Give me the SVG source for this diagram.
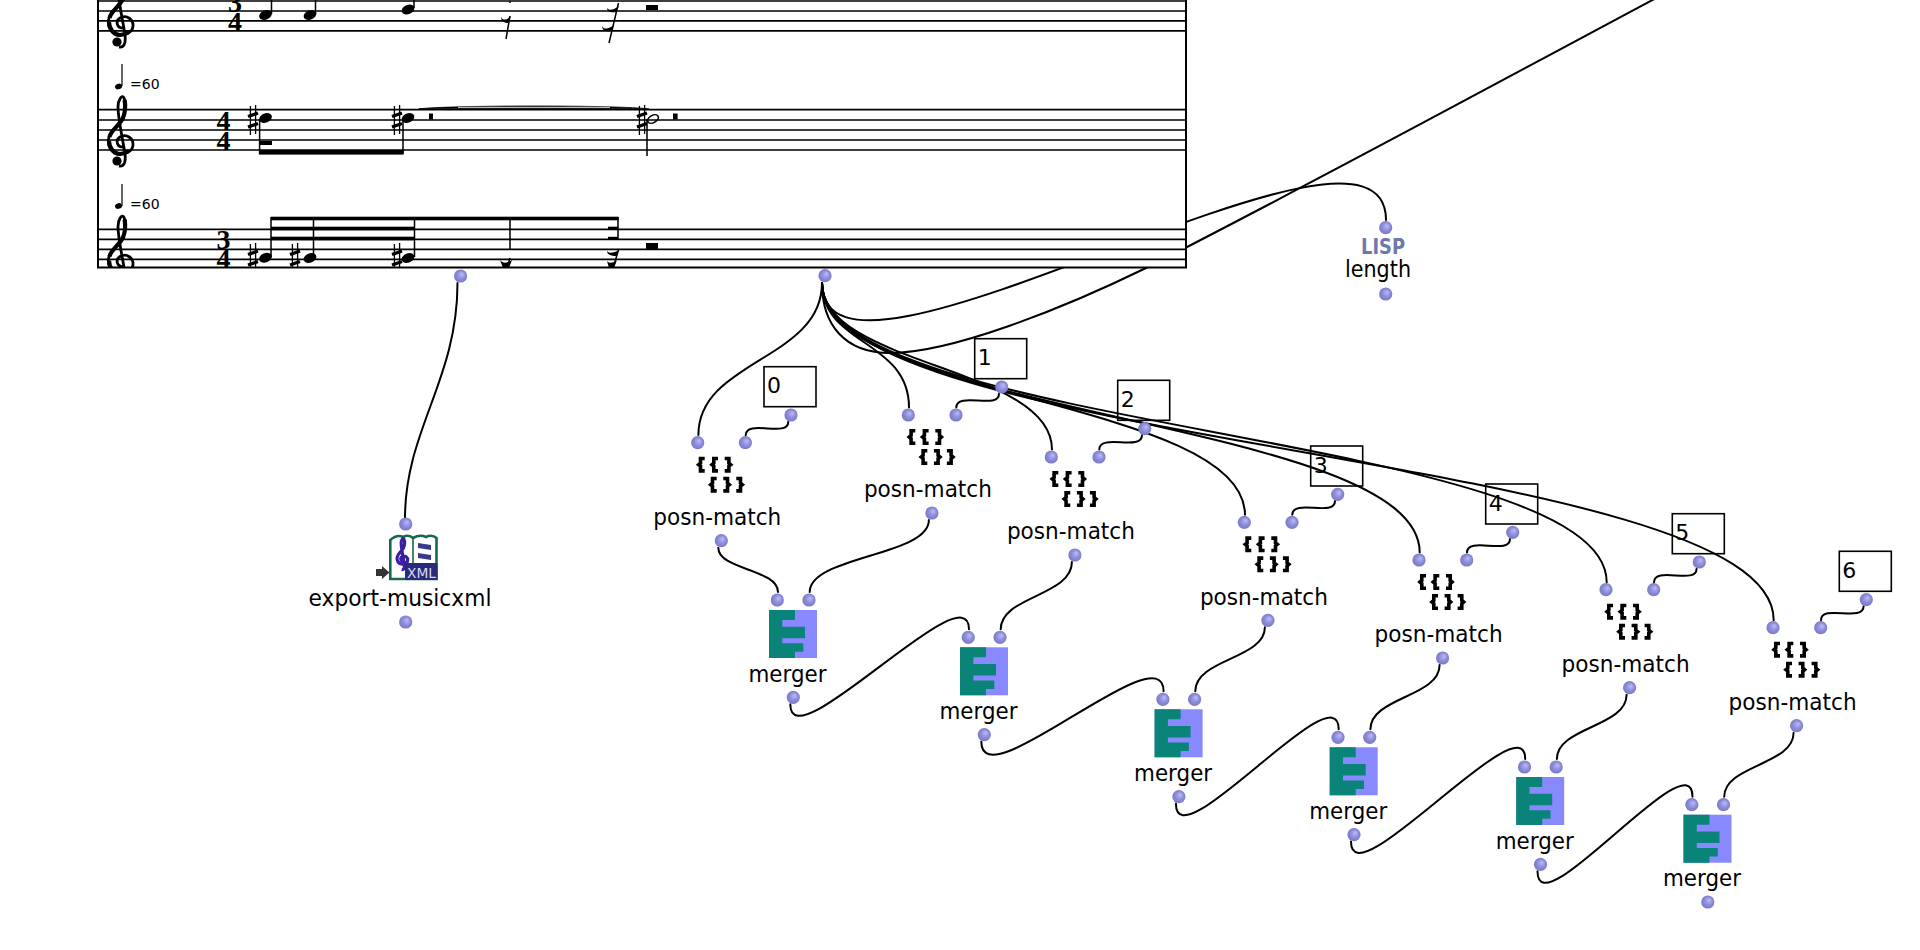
<svg xmlns="http://www.w3.org/2000/svg" xmlns:xlink="http://www.w3.org/1999/xlink" width="1920" height="950" viewBox="0 0 1920 950">
<style>
text{font-family:"DejaVu Sans","Liberation Sans",sans-serif;fill:#000}
.lbl{font-size:22.5px;text-anchor:middle}
.num{font-size:22px}
.tempo{font-size:14px}
.ts{font-family:"Liberation Serif",serif;font-weight:bold;font-size:28px;text-anchor:middle}
.con{fill:none;stroke:#000;stroke-width:2;stroke-linecap:round}
.staff{stroke:#000;stroke-width:1.7;fill:none}
.blk{stroke:#000;fill:none}
.br{fill:none;stroke:#000;stroke-width:3.6}
.box{fill:none;stroke:#000;stroke-width:1.6}
.teal{fill:#0a8478}
.vio{fill:#8888ff}
</style>
<defs>
<radialGradient id="ballGrad" cx="0.5" cy="0.5" r="0.55" fx="0.62" fy="0.35">
<stop offset="0" stop-color="#bcbcf4"/><stop offset="0.55" stop-color="#8c8cdc"/><stop offset="1" stop-color="#7676bc"/>
</radialGradient>
<circle id="ball" r="6.6" fill="url(#ballGrad)"/>
<clipPath id="scoreClip"><rect x="97" y="-12" width="1090" height="280"/></clipPath>
<g id="clef">
<path d="M1.5,7C-4,7-6,0-1,-3C6,-7 12.5,-1 12,5C11.5,12 4,14-1,14C-9,14-13.5,6-12.5,-1C-11,-10-2,-14 2,-22C5,-29 5,-38 3,-42C1,-46-3,-40-3,-33C-3,-22 1,-5 4,14C5,22 3,27-2,26" fill="none" stroke="#000" stroke-width="2.8"/>
<path d="M-11.5,-3C-10,-10-2,-14 2,-22C4.5,-28 4.5,-36 3.5,-40M8,11C4,13.5 1,14-1,14C-7,14-12,8-12,1" fill="none" stroke="#000" stroke-width="4.2"/>
<circle cx="-4" cy="21" r="4.6" fill="#000"/>
</g>
<ellipse id="head" rx="6.6" ry="4.6" transform="rotate(-22)" fill="#000"/>
<g id="sharp" stroke="#000" fill="none">
<path d="M-2.6,-14V15M2.6,-15V14" stroke-width="1.3"/>
<path d="M-5,-3.5L5,-7M-5,7L5,3.5" stroke-width="3.4"/>
</g>
<path id="lb" d="M7,1.8H2.8V6.5L1,8L2.8,9.5V14.2H7" class="br"/>
<path id="rb" d="M0,1.8H4.2V6.5L6,8L4.2,9.5V14.2H0" class="br"/>
<g id="bracket">
<use xlink:href="#lb" href="#lb" x="0" y="14"/><use xlink:href="#lb" href="#lb" x="13.3" y="14"/><use xlink:href="#rb" href="#rb" x="27" y="14"/>
<use xlink:href="#lb" href="#lb" x="12" y="34"/><use xlink:href="#rb" href="#rb" x="25.6" y="34"/><use xlink:href="#rb" href="#rb" x="38.6" y="34"/>
</g>
<g id="mergeIcon">
<rect width="48" height="48" class="vio"/>
<polygon class="teal" points="0,0 26,0 26,10 13.3,10 13.3,16.7 36,16.7 36,28.3 13.3,28.3 13.3,33.3 34.3,33.3 34.3,41.7 26,41.7 26,48 0,48"/>
</g>
</defs>
<rect width="1920" height="950" fill="#fff"/>

<g id="connectors">
<path class="con" d="M457.5,283C457.5,380 405,430 405,518"/>
<path class="con" d="M822,283C822,360 698.4,360 698.4,435"/>
<path class="con" d="M822,283C822,345 909,340 909,407.5"/>
<path class="con" d="M822,283C822,366 1052,366 1052,449.5"/>
<path class="con" d="M822,283C822,399 1245,399 1245,514.8"/>
<path class="con" d="M822,283C822,418 1419.7,418 1419.7,552.5"/>
<path class="con" d="M822,283C822,432 1606.7,432 1606.7,582.2"/>
<path class="con" d="M822,283C822,451 1773.7,451 1773.7,620.2"/>
<path class="con" d="M822,283C822,433 1386,72 1386,220"/>
<path class="con" d="M822,283C822,325 845,353 890,353C950,353 1060,310 1146,268C1300,190 1480,92 1660,-4"/>
<path class="con" d="M788.3,421.7C788.3,438 745.7,418.7 745.7,435.2"/>
<path class="con" d="M999,393.7C999,410 956.3,391 956.3,407.5"/>
<path class="con" d="M1142,435.3C1142,451.6 1099.3,433 1099.3,449.5"/>
<path class="con" d="M1335,501C1335,517.3 1292.3,498.3 1292.3,514.8"/>
<path class="con" d="M1510,539C1510,555.3 1467,536 1467,552.5"/>
<path class="con" d="M1696.6,568.7C1696.6,585 1654,565.7 1654,582.2"/>
<path class="con" d="M1863.6,606.3C1863.6,622.6 1821,603.7 1821,620.2"/>
<path class="con" d="M718.3,547.7C718.3,570 778,569 778,592"/>
<path class="con" d="M928.9,520C928.9,556 809.7,556 809.7,592"/>
<path class="con" d="M1071.9,562C1071.9,596 1000.7,596 1000.7,629.3"/>
<path class="con" d="M1264.9,627.3C1264.9,659 1195.3,659 1195.3,691.3"/>
<path class="con" d="M1439.6,665C1439.6,697 1370.4,697 1370.4,729.3"/>
<path class="con" d="M1626.6,694.7C1626.6,727 1556.9,727 1556.9,759"/>
<path class="con" d="M1793.6,732.7C1793.6,765 1724.2,765 1724.2,796.7"/>
<path class="con" d="M790.3,704.3C790.3,764 969,569 969,629.3"/>
<path class="con" d="M981.3,741.6C981.3,802 1163.6,631 1163.6,691.3"/>
<path class="con" d="M1175.9,803.6C1175.9,864 1338.7,669 1338.7,729.3"/>
<path class="con" d="M1351,841.6C1351,902 1525.2,699 1525.2,759"/>
<path class="con" d="M1537.5,871.3C1537.5,931 1692.5,737 1692.5,796.7"/>
</g>

<g id="score">
<rect x="98" y="-12" width="1088" height="279.5" fill="#fff" stroke="#000" stroke-width="2"/>
<g clip-path="url(#scoreClip)">
<path class="staff" d="M98,1H1186M98,11H1186M98,20.8H1186M98,30.8H1186"/>
<path class="staff" d="M98,109.7H1186M98,120H1186M98,130H1186M98,140H1186M98,150H1186"/>
<path class="staff" d="M98,229.4H1186M98,239.4H1186M98,249.4H1186M98,259.4H1186"/>
<use xlink:href="#clef" href="#clef" x="121" y="21"/>
<use xlink:href="#clef" href="#clef" x="121" y="140"/>
<use xlink:href="#clef" href="#clef" x="121" y="259.5"/>
<text class="ts"><tspan x="235" y="12">3</tspan><tspan x="235" y="31">4</tspan></text>
<text class="ts"><tspan x="223.5" y="130">4</tspan><tspan x="223.5" y="150">4</tspan></text>
<text class="ts"><tspan x="223.5" y="249">3</tspan><tspan x="223.5" y="268">4</tspan></text>
<use xlink:href="#head" href="#head" x="265.5" y="15"/><use xlink:href="#head" href="#head" x="310" y="15"/><use xlink:href="#head" href="#head" x="408" y="9.5"/>
<path class="blk" stroke-width="1.5" d="M271.5,14V-10M315.5,14V-10M414,8V-10"/>
<path class="blk" stroke-width="1.5" d="M510,16L506,39M618.5,3L609,43M510,1V3"/>
<path d="M501,17C503,21 507,20 511,16L508,23C505,23 501,21 501,17ZM607,8C609,11 614,10 619,6L616,12C612,13 607,12 607,8ZM602,26C604,30 609,29 614,25L612,31C608,32 602,31 602,26Z" fill="#000"/>
<rect x="646" y="5" width="12" height="5" fill="#000"/>
<use xlink:href="#sharp" href="#sharp" x="253" y="120"/><use xlink:href="#sharp" href="#sharp" x="397" y="120"/><use xlink:href="#sharp" href="#sharp" x="642" y="120"/>
<use xlink:href="#head" href="#head" x="265.5" y="118"/><use xlink:href="#head" href="#head" x="408" y="118"/>
<ellipse cx="653" cy="119" rx="5.8" ry="3.6" transform="rotate(-30 653 119)" fill="none" stroke="#000" stroke-width="1.7"/>
<path class="blk" stroke-width="1.5" d="M259.6,119V154M403,119V154M647,119V156"/>
<rect x="259" y="150" width="144.5" height="4.6" fill="#000"/><rect x="259" y="141" width="13" height="4" fill="#000"/>
<path d="M418.6,109C445,105 622,105 649,109C622,108.8 445,108.8 418.6,109Z" fill="#000" stroke="#000" stroke-width="0.8"/>
<path d="M458,107.4H610" stroke="#bbb" stroke-width="1.1"/>
<rect x="429" y="113.5" width="4" height="6" fill="#000"/><rect x="673" y="113.5" width="4.6" height="6" fill="#000"/>
<use xlink:href="#sharp" href="#sharp" x="253" y="258"/><use xlink:href="#sharp" href="#sharp" x="295" y="258"/><use xlink:href="#sharp" href="#sharp" x="397" y="258"/>
<use xlink:href="#head" href="#head" x="265.5" y="257.7"/><use xlink:href="#head" href="#head" x="310" y="258"/><use xlink:href="#head" href="#head" x="408" y="258"/>
<path class="blk" stroke-width="1.5" d="M271,217V257M313.5,217V257M414.5,217V257M510,217V249M618,217V240"/>
<rect x="271" y="216.7" width="347.5" height="3.6" fill="#000"/>
<rect x="271" y="226.7" width="144" height="3.6" fill="#000"/><rect x="271" y="236.7" width="144" height="3.6" fill="#000"/>
<rect x="608" y="226.7" width="10" height="3" fill="#000"/><rect x="608" y="236.8" width="10" height="3" fill="#000"/>
<path class="blk" stroke-width="1.5" d="M510,258L507,268M618.5,250L613,268"/>
<path d="M500,260C503,264 508,263 512,260L509,268H503ZM607,251C609,254 614,253 619,250L616,256C612,256 607,255 607,251ZM607,261C609,264 614,263 617,260L614,268H609Z" fill="#000"/>
<rect x="646" y="243" width="12" height="6" fill="#000"/>
<path class="blk" stroke-width="1.2" d="M122,64V86M122,184V206"/>
<ellipse cx="118.5" cy="86.5" rx="3.6" ry="2.8" fill="#000" transform="rotate(-22 118.5 86.5)"/>
<ellipse cx="118.5" cy="206" rx="3.6" ry="2.8" fill="#000" transform="rotate(-22 118.5 206)"/>
<text class="tempo" x="130" y="89">=60</text>
<text class="tempo" x="130" y="208.5">=60</text>
</g>
<use xlink:href="#ball" href="#ball" x="460.6" y="276"/>
<use xlink:href="#ball" href="#ball" x="825" y="275.7"/>
</g>

<g id="export-musicxml">
<use xlink:href="#ball" href="#ball" x="405.7" y="524"/>
<polygon points="376,569 382,569 382,566 389.5,572.5 382,579 382,576 376,576" fill="#333"/>
<path d="M390.3,579V540Q397,534 403,537Q409,534 413,538Q420,534 426,537Q432,534 436.5,538V579Z" fill="#fff" stroke="#17694e" stroke-width="2.6"/>
<path d="M413,538V565" stroke="#17694e" stroke-width="1.6"/>
<g transform="translate(402.5 558) scale(0.45)" stroke="#3a1fa0"><path d="M1.5,7C-4,7-6,0-1,-3C6,-7 12,-1 11.5,5C11,12 4,13.5-1,13.5C-9,13.5-13,6-12,-1C-11,-10-2,-14 2,-22C5,-29 5,-38 3,-42C1,-46-3,-40-3,-33C-3,-22 1,-5 4,14C5,22 3,27-2,26" fill="none" stroke-width="7"/></g>
<path d="M418,543L431,545V550L418,548ZM418,553L431,555V560L418,558Z" fill="#3a3a8a"/>
<rect x="405" y="563" width="32.5" height="17" fill="#2a2a78"/>
<text x="407" y="577.5" font-size="14" textLength="29" lengthAdjust="spacingAndGlyphs" style="fill:#d8d8f0">XML</text>
<text class="lbl" x="400" y="606" textLength="183" lengthAdjust="spacingAndGlyphs">export-musicxml</text>
<use xlink:href="#ball" href="#ball" x="405.7" y="622"/>
</g>

<g id="length">
<use xlink:href="#ball" href="#ball" x="1385.7" y="227.7"/>
<text x="1361" y="254" font-size="20.5" font-weight="bold" textLength="44" lengthAdjust="spacingAndGlyphs" style="fill:#6f78ad">LISP</text>
<text class="lbl" x="1378" y="277.3" textLength="66" lengthAdjust="spacingAndGlyphs">length</text>
<use xlink:href="#ball" href="#ball" x="1385.7" y="294"/>
</g>

<g id="value-0" transform="translate(764 366.7)"><rect class="box" width="52" height="40"/><text class="num" x="3" y="26.7">0</text><use xlink:href="#ball" href="#ball" x="27" y="48.3"/></g>
<g id="value-1" transform="translate(974.7 338.7)"><rect class="box" width="52" height="40"/><text class="num" x="3" y="26.7">1</text><use xlink:href="#ball" href="#ball" x="27" y="48.3"/></g>
<g id="value-2" transform="translate(1117.7 380.3)"><rect class="box" width="52" height="40"/><text class="num" x="3" y="26.7">2</text><use xlink:href="#ball" href="#ball" x="27" y="48.3"/></g>
<g id="value-3" transform="translate(1310.7 446)"><rect class="box" width="52" height="40"/><text class="num" x="3" y="26.7">3</text><use xlink:href="#ball" href="#ball" x="27" y="48.3"/></g>
<g id="value-4" transform="translate(1485.7 484)"><rect class="box" width="52" height="40"/><text class="num" x="3" y="26.7">4</text><use xlink:href="#ball" href="#ball" x="27" y="48.3"/></g>
<g id="value-5" transform="translate(1672.3 513.7)"><rect class="box" width="52" height="40"/><text class="num" x="3" y="26.7">5</text><use xlink:href="#ball" href="#ball" x="27" y="48.3"/></g>
<g id="value-6" transform="translate(1839.3 551.3)"><rect class="box" width="52" height="40"/><text class="num" x="3" y="26.7">6</text><use xlink:href="#ball" href="#ball" x="27" y="48.3"/></g>

<g id="posn-match-0" transform="translate(697.7 442.7)"><use xlink:href="#ball" href="#ball"/><use xlink:href="#ball" href="#ball" x="47.7"/><use xlink:href="#bracket" href="#bracket"/><text class="lbl" x="19.6" y="82.3" textLength="128" lengthAdjust="spacingAndGlyphs">posn-match</text><use xlink:href="#ball" href="#ball" x="23.6" y="98"/></g>
<g id="posn-match-1" transform="translate(908.3 415)"><use xlink:href="#ball" href="#ball"/><use xlink:href="#ball" href="#ball" x="47.7"/><use xlink:href="#bracket" href="#bracket"/><text class="lbl" x="19.6" y="82.3" textLength="128" lengthAdjust="spacingAndGlyphs">posn-match</text><use xlink:href="#ball" href="#ball" x="23.6" y="98"/></g>
<g id="posn-match-2" transform="translate(1051.3 457)"><use xlink:href="#ball" href="#ball"/><use xlink:href="#ball" href="#ball" x="47.7"/><use xlink:href="#bracket" href="#bracket"/><text class="lbl" x="19.6" y="82.3" textLength="128" lengthAdjust="spacingAndGlyphs">posn-match</text><use xlink:href="#ball" href="#ball" x="23.6" y="98"/></g>
<g id="posn-match-3" transform="translate(1244.3 522.3)"><use xlink:href="#ball" href="#ball"/><use xlink:href="#ball" href="#ball" x="47.7"/><use xlink:href="#bracket" href="#bracket"/><text class="lbl" x="19.6" y="82.3" textLength="128" lengthAdjust="spacingAndGlyphs">posn-match</text><use xlink:href="#ball" href="#ball" x="23.6" y="98"/></g>
<g id="posn-match-4" transform="translate(1419 560)"><use xlink:href="#ball" href="#ball"/><use xlink:href="#ball" href="#ball" x="47.7"/><use xlink:href="#bracket" href="#bracket"/><text class="lbl" x="19.6" y="82.3" textLength="128" lengthAdjust="spacingAndGlyphs">posn-match</text><use xlink:href="#ball" href="#ball" x="23.6" y="98"/></g>
<g id="posn-match-5" transform="translate(1606 589.7)"><use xlink:href="#ball" href="#ball"/><use xlink:href="#ball" href="#ball" x="47.7"/><use xlink:href="#bracket" href="#bracket"/><text class="lbl" x="19.6" y="82.3" textLength="128" lengthAdjust="spacingAndGlyphs">posn-match</text><use xlink:href="#ball" href="#ball" x="23.6" y="98"/></g>
<g id="posn-match-6" transform="translate(1773 627.7)"><use xlink:href="#ball" href="#ball"/><use xlink:href="#ball" href="#ball" x="47.7"/><use xlink:href="#bracket" href="#bracket"/><text class="lbl" x="19.6" y="82.3" textLength="128" lengthAdjust="spacingAndGlyphs">posn-match</text><use xlink:href="#ball" href="#ball" x="23.6" y="98"/></g>

<g id="merger-0" transform="translate(777.3 600)"><use xlink:href="#ball" href="#ball"/><use xlink:href="#ball" href="#ball" x="31.7"/><use xlink:href="#mergeIcon" href="#mergeIcon" x="-8.3" y="10"/><text class="lbl" x="10.2" y="81.7" textLength="78" lengthAdjust="spacingAndGlyphs">merger</text><use xlink:href="#ball" href="#ball" x="16" y="97.3"/></g>
<g id="merger-1" transform="translate(968.3 637.3)"><use xlink:href="#ball" href="#ball"/><use xlink:href="#ball" href="#ball" x="31.7"/><use xlink:href="#mergeIcon" href="#mergeIcon" x="-8.3" y="10"/><text class="lbl" x="10.2" y="81.7" textLength="78" lengthAdjust="spacingAndGlyphs">merger</text><use xlink:href="#ball" href="#ball" x="16" y="97.3"/></g>
<g id="merger-2" transform="translate(1162.9 699.3)"><use xlink:href="#ball" href="#ball"/><use xlink:href="#ball" href="#ball" x="31.7"/><use xlink:href="#mergeIcon" href="#mergeIcon" x="-8.3" y="10"/><text class="lbl" x="10.2" y="81.7" textLength="78" lengthAdjust="spacingAndGlyphs">merger</text><use xlink:href="#ball" href="#ball" x="16" y="97.3"/></g>
<g id="merger-3" transform="translate(1338 737.3)"><use xlink:href="#ball" href="#ball"/><use xlink:href="#ball" href="#ball" x="31.7"/><use xlink:href="#mergeIcon" href="#mergeIcon" x="-8.3" y="10"/><text class="lbl" x="10.2" y="81.7" textLength="78" lengthAdjust="spacingAndGlyphs">merger</text><use xlink:href="#ball" href="#ball" x="16" y="97.3"/></g>
<g id="merger-4" transform="translate(1524.5 767)"><use xlink:href="#ball" href="#ball"/><use xlink:href="#ball" href="#ball" x="31.7"/><use xlink:href="#mergeIcon" href="#mergeIcon" x="-8.3" y="10"/><text class="lbl" x="10.2" y="81.7" textLength="78" lengthAdjust="spacingAndGlyphs">merger</text><use xlink:href="#ball" href="#ball" x="16" y="97.3"/></g>
<g id="merger-5" transform="translate(1691.8 804.7)"><use xlink:href="#ball" href="#ball"/><use xlink:href="#ball" href="#ball" x="31.7"/><use xlink:href="#mergeIcon" href="#mergeIcon" x="-8.3" y="10"/><text class="lbl" x="10.2" y="81.7" textLength="78" lengthAdjust="spacingAndGlyphs">merger</text><use xlink:href="#ball" href="#ball" x="16" y="97.3"/></g>
</svg>
